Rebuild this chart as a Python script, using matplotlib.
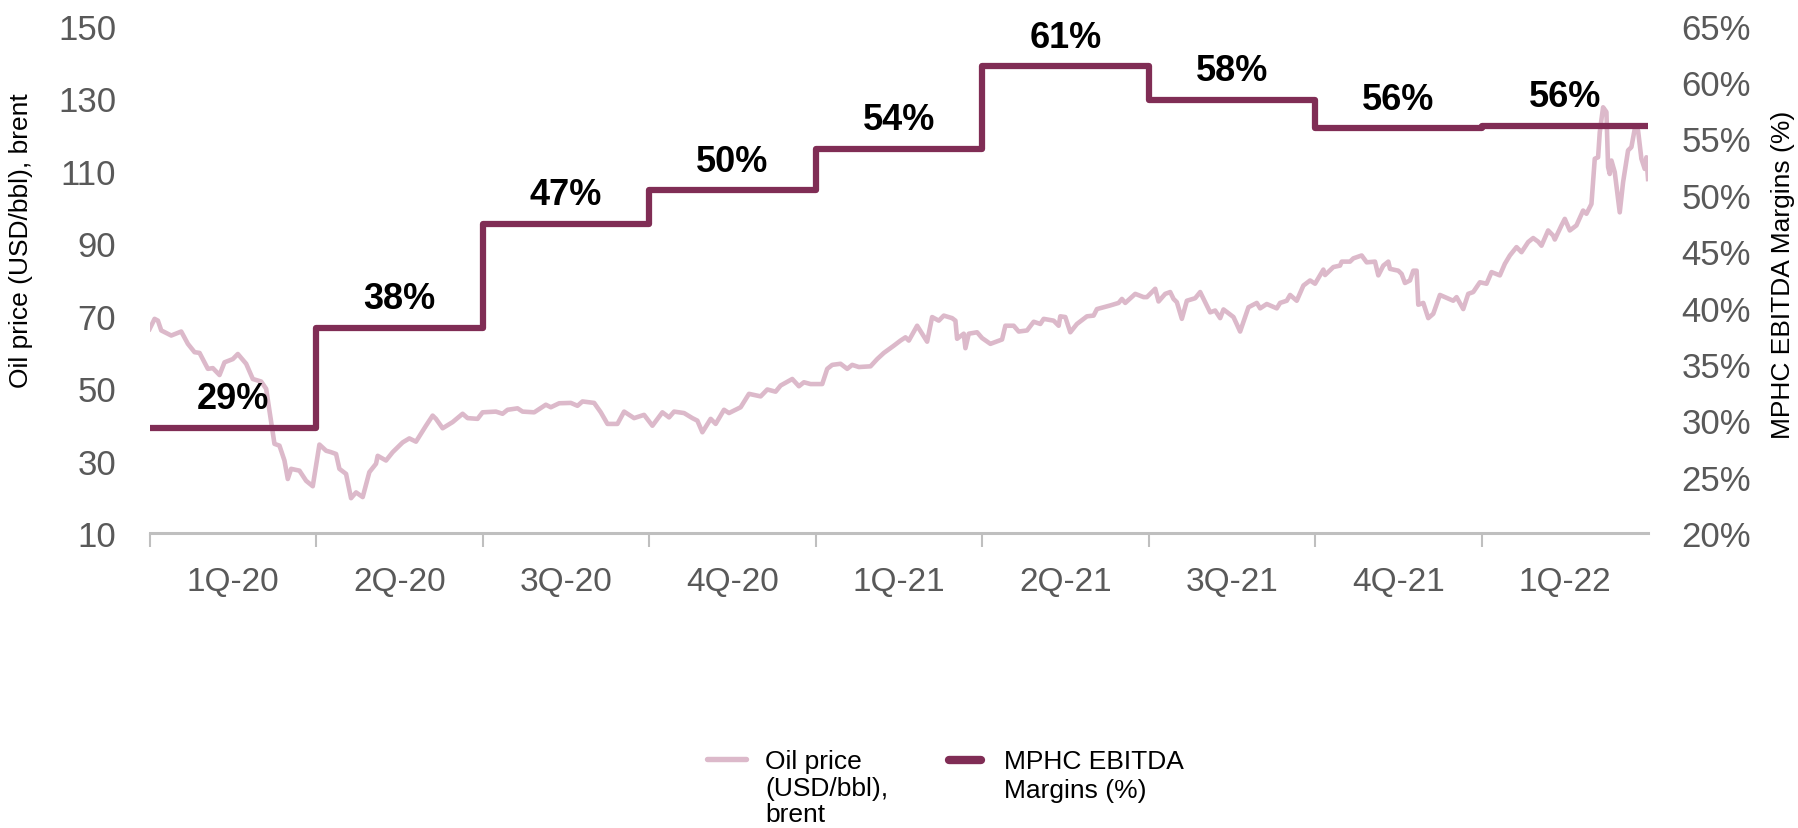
import numpy as np
import matplotlib.pyplot as plt
from matplotlib.lines import Line2D

plt.rcParams['font.family'] = ['Liberation Sans', 'DejaVu Sans']

# quarters on the x axis, EBITDA margin per quarter (%)
quarters = ['1Q-20', '2Q-20', '3Q-20', '4Q-20', '1Q-21', '2Q-21', '3Q-21', '4Q-21', '1Q-22']
margins = [29.3, 38.2, 47.4, 50.4, 54.1, 61.4, 58.4, 55.9, 56.1]
margin_labels = ['29%', '38%', '47%', '50%', '54%', '61%', '58%', '56%', '56%']

# brent price, time in quarters since start of 1Q-20
oil_t = [0.00, 0.03, 0.05, 0.07, 0.13, 0.19, 0.23, 0.27, 0.30, 0.35, 0.38, 0.42, 0.45, 0.50,
         0.53, 0.58, 0.62, 0.67, 0.70, 0.73, 0.75, 0.78, 0.81, 0.83, 0.85, 0.90, 0.94, 0.98,
         1.00, 1.02, 1.06, 1.09, 1.12, 1.14, 1.18, 1.21, 1.24, 1.28, 1.32, 1.36, 1.37, 1.42,
         1.46, 1.52, 1.56, 1.60, 1.66, 1.70, 1.72, 1.76, 1.82, 1.88, 1.91,
         1.97, 2.00, 2.08, 2.12, 2.15, 2.21, 2.24, 2.31, 2.38, 2.41, 2.46, 2.53, 2.57, 2.60,
         2.67, 2.71, 2.75, 2.81, 2.85, 2.91, 2.97, 3.02, 3.08, 3.12, 3.15, 3.21, 3.26, 3.29,
         3.32, 3.37, 3.40, 3.45, 3.48, 3.55, 3.60, 3.67, 3.71, 3.76, 3.79, 3.86, 3.90, 3.93,
         3.97, 4.04, 4.07, 4.10, 4.15, 4.19, 4.22, 4.26, 4.33, 4.37, 4.41, 4.47, 4.51, 4.54,
         4.56, 4.61, 4.67, 4.70, 4.74, 4.77, 4.82, 4.84, 4.85, 4.89, 4.90, 4.92, 4.97, 5.00,
         5.05, 5.12, 5.14, 5.19, 5.22, 5.27, 5.31, 5.35, 5.37, 5.43, 5.46, 5.47, 5.50, 5.53,
         5.57, 5.63, 5.67, 5.69, 5.77, 5.82, 5.84, 5.86, 5.92, 5.97,
         5.99, 6.04, 6.06, 6.10, 6.13, 6.15, 6.17, 6.20, 6.23, 6.28, 6.31, 6.35, 6.37, 6.40,
         6.43, 6.45, 6.51, 6.55, 6.60, 6.65, 6.67, 6.71, 6.77, 6.79, 6.83, 6.85, 6.89, 6.93,
         6.97, 7.00, 7.05, 7.06, 7.11, 7.15, 7.16, 7.21, 7.23, 7.28, 7.31, 7.36, 7.38, 7.41,
         7.44, 7.45, 7.50, 7.52, 7.54, 7.57, 7.59, 7.61, 7.62, 7.65, 7.68, 7.71, 7.75, 7.78,
         7.83, 7.85, 7.89, 7.92, 7.95, 7.99, 8.03, 8.06, 8.11, 8.14, 8.17, 8.21, 8.24, 8.28,
         8.31, 8.34, 8.36, 8.40, 8.43, 8.44, 8.48, 8.50, 8.53, 8.57, 8.61, 8.63, 8.66, 8.68,
         8.70, 8.71, 8.73, 8.75, 8.76, 8.77, 8.78, 8.80, 8.83, 8.85, 8.88, 8.90, 8.92, 8.94,
         8.96, 8.98, 8.99, 9.00]
oil_price = [66.3, 69.1, 68.6, 65.9, 64.5, 65.6, 62.2, 59.9, 59.7, 55.3, 55.5, 53.6, 57.1, 58.0,
             59.4, 56.7, 52.5, 51.8, 49.8, 40.6, 34.6, 34.1, 30.0, 24.9, 27.7, 27.2, 24.4, 22.9,
             28.6, 34.4, 32.7, 32.3, 31.8, 27.7, 26.3, 19.6, 21.2, 19.9, 26.8, 29.1, 31.3, 30.0,
             32.3, 35.0, 36.1, 35.2, 39.6, 42.4, 41.5, 38.9, 40.6, 42.9, 41.7,
             41.5, 43.3, 43.5, 42.9, 44.0, 44.4, 43.5, 43.3, 45.4, 44.7, 45.8, 45.9, 45.1, 46.3,
             45.9, 43.3, 40.1, 40.1, 43.5, 41.7, 42.6, 39.6, 43.3, 41.9, 43.5, 43.1, 41.7, 41.0,
             37.8, 41.5, 40.1, 44.0, 43.1, 44.7, 48.4, 47.7, 49.6, 49.0, 50.7, 52.5, 50.5, 51.6,
             51.1, 51.1, 55.3, 56.4, 56.7, 55.3, 56.4, 55.8, 56.0, 58.0, 59.7, 61.7, 63.1, 64.0,
             63.1, 67.2, 62.8, 69.6, 68.6, 70.0, 69.3, 68.6, 63.6, 65.0, 61.0, 65.0, 65.4, 63.8,
             62.2, 63.4, 67.2, 67.2, 65.6, 65.9, 68.3, 67.7, 69.1, 68.6, 67.2, 69.8, 69.6, 65.4,
             67.7, 69.8, 70.0, 71.8, 72.8, 73.5, 74.6, 73.5, 76.0, 75.1,
             75.1, 77.4, 73.9, 76.0, 76.5, 74.6, 73.7, 69.1, 74.1, 74.8, 76.5, 72.8, 70.9, 71.4,
             69.3, 71.7, 69.6, 65.6, 72.3, 73.5, 72.0, 73.2, 72.0, 73.5, 74.1, 75.7, 74.1, 78.3,
             79.7, 78.8, 82.7, 81.2, 83.4, 83.8, 84.9, 84.9, 85.8, 86.6, 84.7, 84.9, 81.1, 83.8,
             84.9, 82.9, 82.4, 81.5, 79.0, 79.7, 82.4, 82.4, 73.0, 73.5, 69.3, 70.5, 75.7, 75.1,
             74.1, 75.1, 71.8, 76.0, 76.5, 79.2, 78.8, 82.0, 81.1, 84.3, 86.6, 88.9, 87.5, 90.3,
             91.4, 90.4, 89.3, 93.5, 92.1, 91.0, 94.9, 96.7, 93.5, 94.9, 99.0, 98.1, 100.8, 113.3,
             113.7, 120.6, 127.5, 126.2, 111.0, 109.1, 112.8, 109.6, 98.5, 106.8, 115.6, 116.5, 121.5, 121.1,
             113.3, 110.5, 113.7, 107.7]

PINK = '#DCB9CA'
MAROON = '#802D55'
GREY_TXT = '#595959'
GREY_AX = '#BFBFBF'

fig = plt.figure(figsize=(17.98, 8.29), dpi=100)
ax = fig.add_axes([0.0832, 0.3559, 0.8334, 0.6118])
ax2 = ax.twinx()

# oil price (left axis)
ax.plot(oil_t, oil_price, color=PINK, lw=3.3, solid_joinstyle='round')

# EBITDA margin steps (right axis)
edges = np.arange(len(margins) + 1)
ax2.step(edges, margins + [margins[-1]], where='post', color=MAROON, lw=4.5,
         solid_joinstyle='round', solid_capstyle='round')
for i, (m, lab) in enumerate(zip(margins, margin_labels)):
    ax2.annotate(lab, (i + 0.5, m), xytext=(0, 21), textcoords='offset points',
                 ha='center', va='center', fontsize=26, fontweight='bold', color='black')

# axes ranges and ticks
ax.set_xlim(0, len(quarters))
ax.set_ylim(10, 150)
ax.set_yticks(np.arange(10, 151, 20))
ax2.set_ylim(20, 65)
ax2.set_yticks(np.arange(20, 66, 5))
ax2.set_yticklabels([f'{v}%' for v in np.arange(20, 66, 5)])

ax.set_xticks(np.arange(len(quarters)))
ax.set_xticklabels([])
ax.set_xticks(np.arange(len(quarters)) + 0.5, minor=True)
ax.set_xticklabels(quarters, minor=True)
ax.tick_params(axis='x', which='major', length=10, width=1.5, color=GREY_AX)
ax.tick_params(axis='x', which='minor', length=0, pad=24, labelsize=24, labelcolor=GREY_TXT)
ax.tick_params(axis='y', length=0, pad=24, labelsize=25, labelcolor=GREY_TXT)
ax2.tick_params(axis='y', length=0, pad=24, labelsize=25, labelcolor=GREY_TXT)

for s in ['top', 'left', 'right']:
    ax.spines[s].set_visible(False)
for s in ax2.spines.values():
    s.set_visible(False)
ax.spines['bottom'].set_color(GREY_AX)
ax.spines['bottom'].set_linewidth(2.2)

# axis titles
fig.text(21 / 1798, 588 / 829, 'Oil price (USD/bbl), brent', rotation=90,
         ha='center', va='center', fontsize=19)
fig.text(1783 / 1798, 554 / 829, 'MPHC EBITDA Margins (%)', rotation=90,
         ha='center', va='center', fontsize=19)

# legend, drawn by hand so the keys sit on the first text line
fig.add_artist(Line2D([707 / 1798, 746 / 1798], [0.0832, 0.0832], color=PINK, lw=3.9,
                      solid_capstyle='round', transform=fig.transFigure))
fig.text(765 / 1798, 0.095, 'Oil price\n(USD/bbl),\nbrent', ha='left', va='top',
         fontsize=19, linespacing=1.12, transform=fig.transFigure)
fig.add_artist(Line2D([949 / 1798, 981 / 1798], [0.0826, 0.0826], color=MAROON, lw=6,
                      solid_capstyle='round', transform=fig.transFigure))
fig.text(1004 / 1798, 0.095, 'MPHC EBITDA\nMargins (%)', ha='left', va='top',
         fontsize=19, linespacing=1.25, transform=fig.transFigure)

fig.savefig('out.png', dpi=100)
